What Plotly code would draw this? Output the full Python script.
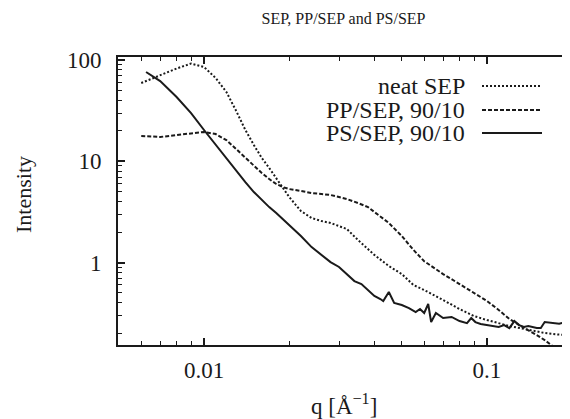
import plotly.graph_objects as go

# ---- data ----
q_neat = [0.006, 0.007, 0.008, 0.009, 0.0095, 0.010, 0.011, 0.012, 0.013, 0.014, 0.015, 0.016,
          0.017, 0.018, 0.019, 0.020, 0.022, 0.024, 0.026, 0.028, 0.030, 0.032, 0.035, 0.038,
          0.040, 0.045, 0.050, 0.055, 0.060, 0.070, 0.080, 0.090, 0.100, 0.120, 0.140, 0.160,
          0.180, 0.200]
i_neat = [59.4, 71.3, 82.6, 92.5, 89.5, 85.5, 66.5, 48.4, 31.4, 20.4, 14.5, 10.8,
          8.59, 6.84, 5.45, 4.44, 3.23, 2.75, 2.57, 2.46, 2.29, 2.14, 1.67, 1.36,
          1.19, 0.923, 0.769, 0.599, 0.535, 0.426, 0.347, 0.296, 0.270, 0.236, 0.215, 0.201,
          0.194, 0.192]

q_pp = [0.006, 0.007, 0.008, 0.009, 0.010, 0.011, 0.012, 0.013, 0.014, 0.015, 0.016, 0.017,
        0.018, 0.019, 0.020, 0.022, 0.024, 0.026, 0.028, 0.030, 0.032, 0.035, 0.038, 0.040,
        0.045, 0.050, 0.055, 0.060, 0.065, 0.070, 0.080, 0.090, 0.100, 0.110, 0.120, 0.130,
        0.140, 0.150, 0.160, 0.170, 0.190]
i_pp = [17.8, 17.4, 18.2, 19.0, 19.5, 18.6, 16.2, 13.2, 10.8, 8.99, 7.66, 6.68,
        5.97, 5.57, 5.32, 5.09, 4.86, 4.75, 4.65, 4.44, 4.24, 3.87, 3.53, 3.16,
        2.46, 1.83, 1.33, 1.03, 0.883, 0.769, 0.613, 0.500, 0.417, 0.340, 0.277, 0.241,
        0.215, 0.192, 0.171, 0.150, 0.119]

q_ps = [0.00624, 0.007, 0.008, 0.009, 0.010, 0.011, 0.012, 0.013, 0.014, 0.015, 0.016, 0.017,
        0.018, 0.019, 0.020, 0.022, 0.024, 0.026, 0.028, 0.030, 0.032, 0.034, 0.036, 0.038,
        0.040, 0.042, 0.043, 0.045, 0.047, 0.050, 0.053, 0.056, 0.058, 0.060, 0.062, 0.0635,
        0.066, 0.070, 0.075, 0.080, 0.085, 0.088, 0.091, 0.095, 0.100, 0.105, 0.110, 0.115,
        0.120, 0.125, 0.130, 0.135, 0.140, 0.150, 0.155, 0.160, 0.170, 0.180, 0.190, 0.200]
i_ps = [76.3, 62.1, 43.2, 30.0, 20.4, 14.5, 10.8, 8.02, 6.24, 4.97, 4.15, 3.53,
        3.08, 2.69, 2.35, 1.83, 1.42, 1.19, 1.01, 0.903, 0.769, 0.656, 0.613, 0.535,
        0.467, 0.436, 0.417, 0.511, 0.398, 0.380, 0.355, 0.324, 0.347, 0.317, 0.389, 0.258,
        0.317, 0.283, 0.290, 0.264, 0.252, 0.283, 0.258, 0.247, 0.241, 0.236, 0.231, 0.241,
        0.225, 0.264, 0.241, 0.231, 0.236, 0.225, 0.225, 0.258, 0.252, 0.249, 0.258, 0.252]

series_names = ["neat SEP", "PP/SEP, 90/10", "PS/SEP, 90/10"]
x_ticks = [0.01, 0.1]
x_tick_text = ["0.01", "0.1"]
y_ticks = [1, 10, 100]
y_tick_text = ["1", "10", "100"]
x_minor = [0.006, 0.007, 0.008, 0.009, 0.02, 0.03, 0.04, 0.05, 0.06, 0.07, 0.08, 0.09]
y_minor = [0.2, 0.3, 0.4, 0.5, 0.6, 0.7, 0.8, 0.9, 2, 3, 4, 5, 6, 7, 8, 9,
           20, 30, 40, 50, 60, 70, 80, 90]

FONT = "Liberation Serif, Times New Roman, serif"
INK = "#1a1a1a"
dashes = ["2px,2px", "4px,2px", "solid"]

X_RANGE = [-2.304, -0.710]
Y_RANGE = [-0.815, 2.031]

fig = go.Figure()
for q, i, name, d in zip([q_neat, q_pp, q_ps], [i_neat, i_pp, i_ps], series_names, dashes):
    fig.add_trace(go.Scatter(x=q, y=i, mode="lines", name=name, showlegend=False,
                             line=dict(color=INK, width=2, dash=d)))

# The page body has an 8px margin, so the figure is laid out in page pixels minus 8.
OFF = 8
W, H = 570 - OFF, 419 - OFF
PL, PR, PT, PB = 118, 569, 57, 345          # plot box in page pixels
L, R, T, B = PL - OFF, W - (PR - OFF), PT - OFF, H - (PB - OFF)
pw, ph = W - L - R, H - T - B

def px_to_paper(x, y):
    return (x - OFF - L) / pw, (H - B - (y - OFF)) / ph

# legend (gnuplot style: text right-aligned, sample on the right)
leg_rows = [86, 110, 133]
for name, d, yy in zip(series_names, dashes, leg_rows):
    tx, ty = px_to_paper(467, yy)
    fig.add_annotation(x=tx, y=ty, xref="paper", yref="paper", text=name, showarrow=False,
                       xanchor="right", yanchor="middle", font=dict(family=FONT, size=24, color=INK))
    x0, _ = px_to_paper(482, yy)
    x1, _ = px_to_paper(542, yy)
    fig.add_shape(type="line", xref="paper", yref="paper", x0=x0, x1=x1, y0=ty, y1=ty,
                  line=dict(color=INK, width=2, dash=d))

# axis titles
ax, ay = px_to_paper(344, 404)
fig.add_annotation(x=ax, y=ay, xref="paper", yref="paper", text="q [Å<sup>−1</sup>]",
                   showarrow=False, xanchor="center", yanchor="middle",
                   font=dict(family=FONT, size=23, color=INK))
ax, ay = px_to_paper(23, 195)
fig.add_annotation(x=ax, y=ay, xref="paper", yref="paper", text="Intensity", textangle=-90,
                   showarrow=False, xanchor="center", yanchor="middle",
                   font=dict(family=FONT, size=22, color=INK))

major = dict(type="log", showline=True, linecolor=INK, linewidth=2, mirror="ticks",
             ticks="inside", ticklen=7, tickwidth=1.5, tickcolor=INK, showgrid=False,
             zeroline=False, automargin=False, tickfont=dict(family=FONT, size=23, color=INK))
minor = dict(type="log", showline=False, mirror="ticks", ticks="inside", ticklen=4,
             tickwidth=1, tickcolor=INK, showgrid=False, zeroline=False, automargin=False,
             showticklabels=False)

fig.update_layout(
    width=W, height=H, margin=dict(l=L, r=R, t=T, b=B),
    paper_bgcolor="white", plot_bgcolor="white",
    xaxis=dict(**major, range=X_RANGE, tickvals=x_ticks, ticktext=x_tick_text, ticklabelstandoff=3),
    yaxis=dict(**major, range=Y_RANGE, tickvals=y_ticks, ticktext=y_tick_text, ticklabelstandoff=10),
    xaxis2=dict(**minor, range=X_RANGE, tickvals=x_minor, overlaying="x", anchor="y", side="bottom"),
    yaxis2=dict(**minor, range=Y_RANGE, tickvals=y_minor, overlaying="y", anchor="x", side="left"),
    title=dict(text="SEP, PP/SEP and PS/SEP", x=(L + pw / 2) / W, xanchor="center",
               y=1 - (18 - OFF) / H, yanchor="middle", font=dict(family=FONT, size=16, color=INK)),
)
# invisible trace so the minor-tick axes are drawn
fig.add_trace(go.Scatter(x=[0.01], y=[1], xaxis="x2", yaxis="y2", mode="markers",
                         marker=dict(opacity=0), showlegend=False, hoverinfo="skip"))

fig.write_html("out.html")
